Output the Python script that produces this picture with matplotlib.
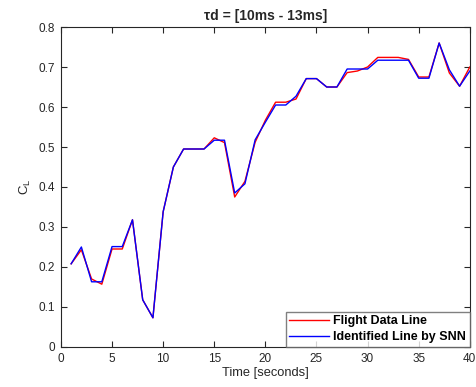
import numpy as np
import matplotlib
matplotlib.use('Agg')
import matplotlib.pyplot as plt

plt.rcParams['font.family'] = ['Liberation Sans', 'DejaVu Sans']

time = list(range(1, 41))
flight = [0.208, 0.243, 0.170, 0.157, 0.245, 0.245, 0.318, 0.118, 0.073, 0.338,
          0.450, 0.495, 0.495, 0.495, 0.523, 0.511, 0.375, 0.414, 0.512, 0.567,
          0.612, 0.612, 0.620, 0.671, 0.671, 0.650, 0.650, 0.686, 0.690, 0.700,
          0.724, 0.724, 0.724, 0.719, 0.675, 0.675, 0.760, 0.685, 0.652, 0.700]
snn = [0.208, 0.250, 0.163, 0.163, 0.251, 0.251, 0.318, 0.118, 0.073, 0.338,
       0.450, 0.495, 0.495, 0.495, 0.517, 0.517, 0.385, 0.408, 0.518, 0.562,
       0.605, 0.605, 0.627, 0.671, 0.671, 0.650, 0.650, 0.695, 0.695, 0.695,
       0.717, 0.717, 0.717, 0.717, 0.672, 0.672, 0.760, 0.693, 0.652, 0.690]

fig = plt.figure(figsize=(4.76, 3.87), dpi=100)
ax = fig.add_axes([0.128, 0.1034, 0.859, 0.8268])
ax.plot(time, flight, color='red', lw=1.0, label='Flight Data Line')
ax.plot(time, snn, color='blue', lw=1.0, label='Identified Line by SNN')

ax.set_xlim(0, 40)
ax.set_ylim(0, 0.8)
ax.set_xticks(np.arange(0, 41, 5))
ax.set_yticks(np.arange(0, 0.81, 0.1))
ax.set_yticklabels(['0', '0.1', '0.2', '0.3', '0.4', '0.5', '0.6', '0.7', '0.8'])
ax.tick_params(direction='in', top=True, right=True, length=4, width=0.8,
               labelsize=8.5, colors='#262626', pad=4)
for s in ax.spines.values():
    s.set_color('#262626')
    s.set_linewidth(0.8)

ax.set_title('τd = [10ms - 13ms]', fontsize=10, fontweight='bold', color='#262626', pad=5)
ax.set_xlabel('Time [seconds]', fontsize=9.3, color='#262626', labelpad=2)
ax.set_ylabel(r'$\mathregular{C_L}$', fontsize=9.5, color='#262626', labelpad=4)

leg = ax.legend(loc='lower right', borderaxespad=0, fancybox=False,
                handlelength=3.2, handletextpad=0.3, borderpad=0.3,
                labelspacing=0.3, prop={'size': 9, 'weight': 'bold'})
leg.get_frame().set_edgecolor('#606060')
leg.get_frame().set_linewidth(1.0)

fig.savefig('out.png', dpi=100)
